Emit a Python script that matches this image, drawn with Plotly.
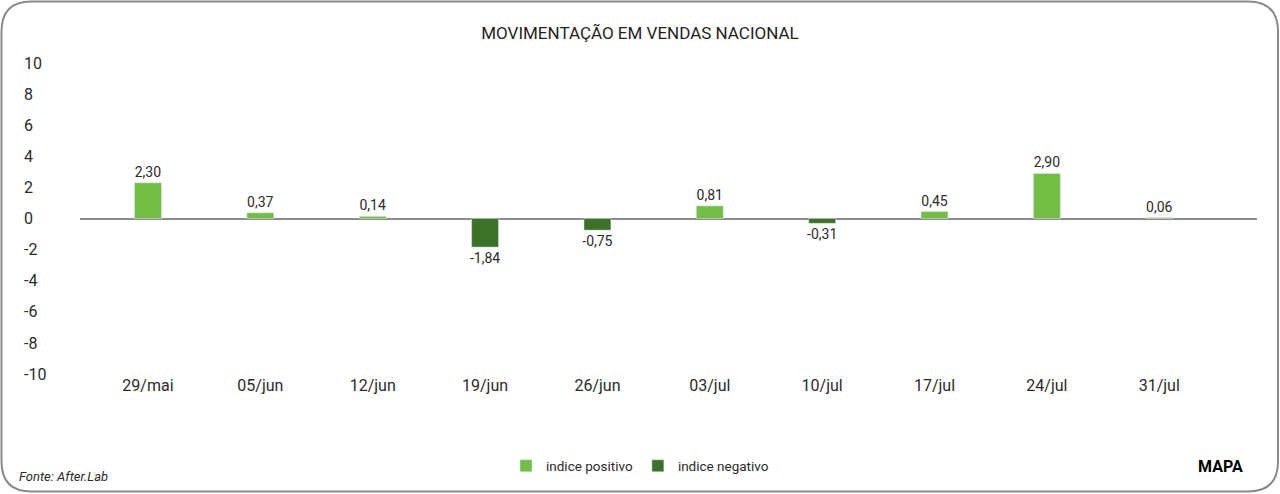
import plotly.graph_objects as go

# ---- data ----
categories = ["29/mai", "05/jun", "12/jun", "19/jun", "26/jun",
              "03/jul", "10/jul", "17/jul", "24/jul", "31/jul"]
values = [2.30, 0.37, 0.14, -1.84, -0.75, 0.81, -0.31, 0.45, 2.90, 0.06]
y_tick_vals = [10, 8, 6, 4, 2, 0, -2, -4, -6, -8, -10]
y_tick_text = ["10", "8", "6", "4", "2", "0", "-2", "-4", "-6", "-8", "-10"]

title_text = "MOVIMENTAÇÃO EM VENDAS NACIONAL"
pos_name = "indice positivo"
neg_name = "indice negativo"
source_text = "Fonte: After.Lab"
logo_text = "MAPA"

POS_COLOR = "#72BF44"
NEG_COLOR = "#3B7228"
TEXT_COLOR = "#2b2b2b"
FONT = "Roboto, 'Open Sans', sans-serif"

# ---- layout geometry (pixels) ----
W, H = 1280, 494
ML, MR, MT, MB = 20, 23, 63, 120
PW = W - ML - MR
PH = H - MT - MB


def px_x(px):
    return (px - ML) / PW


def px_y(py):
    return (H - MB - py) / PH


def fmt(v):
    return f"{v:.2f}".replace(".", ",")


pos_vals = [v if v > 0 else None for v in values]
neg_vals = [v if v < 0 else None for v in values]
pos_text = [fmt(v) if v > 0 else "" for v in values]
neg_text = [fmt(v) if v < 0 else "" for v in values]

fig = go.Figure()
fig.add_trace(go.Bar(
    x=categories, y=pos_vals, name=pos_name, marker_color=POS_COLOR,
    text=pos_text, textposition="outside", width=0.24,
    textfont=dict(size=14, color=TEXT_COLOR), cliponaxis=False,
    constraintext="none",
))
fig.add_trace(go.Bar(
    x=categories, y=neg_vals, name=neg_name, marker_color=NEG_COLOR,
    text=neg_text, textposition="outside", width=0.24,
    textfont=dict(size=14, color=TEXT_COLOR), cliponaxis=False,
    constraintext="none",
))

# rounded frame border
x0, x1, y0, y1, r = 1.5, 1278, 1.5, 491.5, 30


def P(px, py):
    return f"{px_x(px):.5f},{px_y(py):.5f}"


frame_path = (
    f"M {P(x0 + r, y0)} L {P(x1 - r, y0)} Q {P(x1, y0)} {P(x1, y0 + r)} "
    f"L {P(x1, y1 - r)} Q {P(x1, y1)} {P(x1 - r, y1)} "
    f"L {P(x0 + r, y1)} Q {P(x0, y1)} {P(x0, y1 - r)} "
    f"L {P(x0, y0 + r)} Q {P(x0, y0)} {P(x0 + r, y0)} Z"
)

fig.update_layout(
    width=W, height=H,
    margin=dict(l=ML, r=MR, t=MT, b=MB, autoexpand=False),
    paper_bgcolor="white", plot_bgcolor="white",
    font=dict(family=FONT, color=TEXT_COLOR, size=16),
    barmode="relative",
    title=dict(text=title_text, x=0.5, xref="container", xanchor="center",
               y=(H - 33) / H, yref="container", yanchor="middle",
               font=dict(size=17, color="#1f1f1f")),
    xaxis=dict(domain=[px_x(80), 1], range=[-0.605, 9.87], showgrid=False,
               showline=False, ticks="", zeroline=False,
               tickfont=dict(size=16, color=TEXT_COLOR)),
    yaxis=dict(range=[-10, 10], anchor="free", position=0,
               tickvals=y_tick_vals, ticktext=y_tick_text,
               ticklabelposition="inside", ticklabeloverflow="allow",
               showgrid=False, showline=False,
               ticks="", zeroline=True, zerolinecolor="#8c8c8c",
               zerolinewidth=1.5, tickfont=dict(size=16, color=TEXT_COLOR)),
    showlegend=True,
    legend=dict(orientation="h", x=px_x(640), xanchor="center",
                y=px_y(466), yanchor="middle",
                font=dict(size=13.5, color=TEXT_COLOR), traceorder="normal"),
    shapes=[dict(type="path", path=frame_path, xref="paper", yref="paper",
                 line=dict(color="#8a8a8a", width=2), layer="above")],
    annotations=[
        dict(text="<i>" + source_text + "</i>", x=px_x(17), y=px_y(476),
             xref="paper", yref="paper", xanchor="left", yanchor="middle",
             showarrow=False,
             font=dict(size=13, color=TEXT_COLOR, family=FONT)),
        dict(text=f"<b>{logo_text}</b>", x=px_x(1220), y=px_y(467),
             xref="paper", yref="paper", xanchor="center", yanchor="middle",
             showarrow=False,
             font=dict(size=16, color="#000000", family="Roboto, sans-serif")),
    ],
)

fig.write_html(
    "out.html",
    config={"displayModeBar": False},
    post_script="document.body.style.margin='0';document.body.style.overflow='hidden';",
)
